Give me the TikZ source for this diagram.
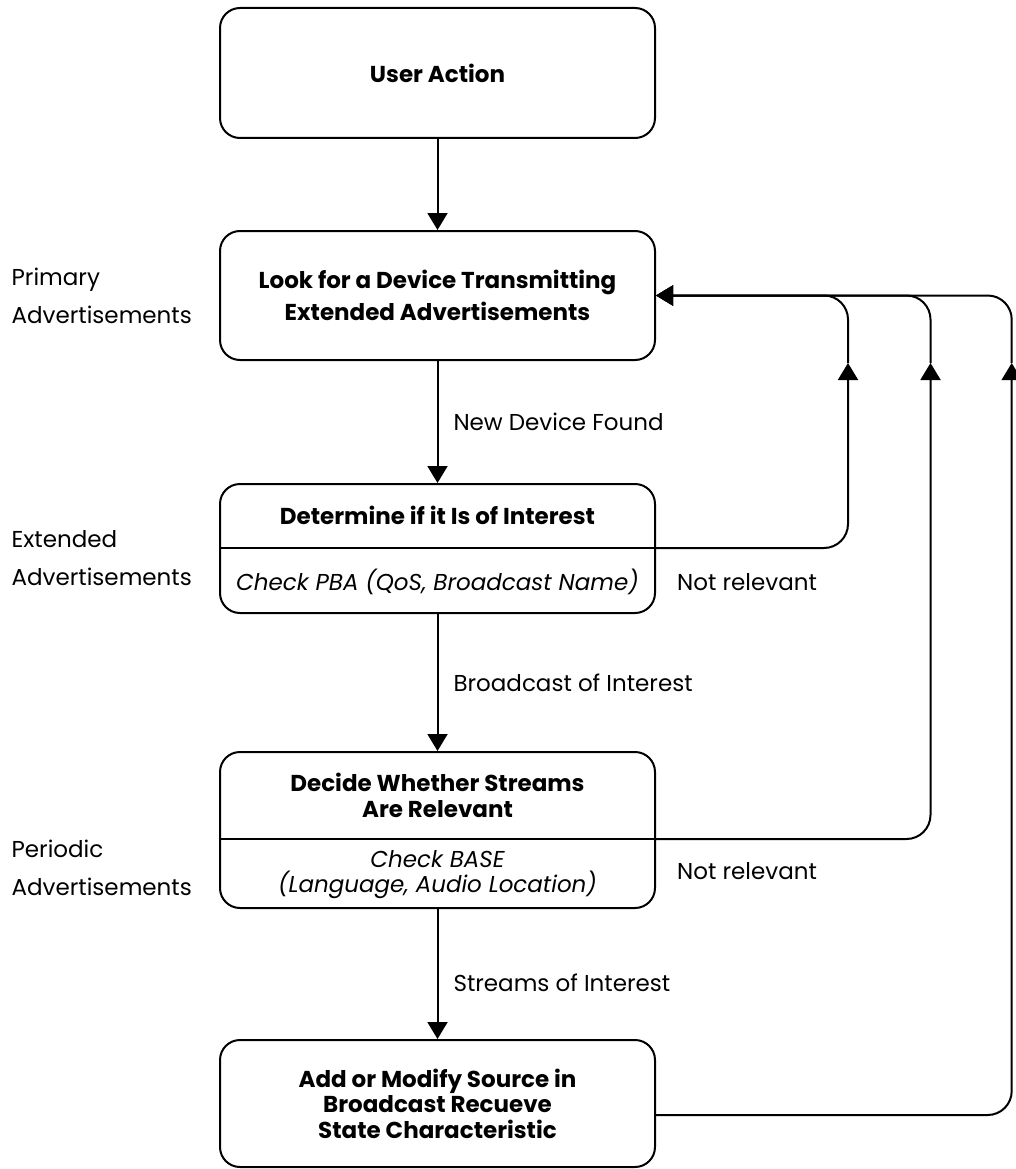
\documentclass[tikz,border=0pt]{standalone}
\usepackage{fontspec}
\setmainfont{Poppins}
\usetikzlibrary{arrows.meta, positioning, calc}

\begin{document}
\begin{tikzpicture}[
    x=1pt, y=1pt,
    box/.style={rectangle, draw, line width=2pt, rounded corners=20pt, minimum width=435pt, text centered, align=center, font=\bfseries\fontsize{23}{26}\selectfont},
    title/.style={align=center, font=\bfseries\fontsize{23}{26}\selectfont},
    check/.style={align=center, font=\itshape\fontsize{23}{25}\selectfont},
    note/.style={inner sep=0pt, font=\fontsize{23}{26}\selectfont},
    side/.style={align=left, inner sep=0pt, font=\fontsize{23}{38}\selectfont},
    arrow/.style={line width=2pt, -{Triangle[length=17pt, width=20pt]}},
    back/.style={arrow, rounded corners=24pt}
]

\useasboundingbox (0,0) rectangle (1016,-1169);

% main chain
\node[box, minimum height=130pt] (action) at (437.5,-73) {User Action};
\node[box, minimum height=129pt, below=91pt of action, font=\bfseries\fontsize{23}{32}\selectfont] (look) {Look for a Device Transmitting\\Extended Advertisements};
\node[box, minimum height=129pt, below=122pt of look] (interest) {};
\node[box, minimum height=156pt, below=137pt of interest] (streams) {};
\node[box, minimum height=127pt, below=130pt of streams, font=\bfseries\fontsize{23}{25.5}\selectfont] (source) {Add or Modify Source in\\Broadcast Recueve\\State Characteristic};

% inside the split boxes
\node[title] (interest-title) at ([yshift=-32.5pt]interest.north) {Determine if it Is of Interest};
\coordinate (interest-split) at ([yshift=-65pt]interest.north);
\node[check] (interest-check) at ([yshift=32pt]interest.south) {Check PBA (QoS, Broadcast Name)};
\draw[line width=2pt] (interest-split -| interest.west) -- (interest-split -| interest.east);

\node[title] (streams-title) at ([yshift=-44pt]streams.north) {Decide Whether Streams\\Are Relevant};
\coordinate (streams-split) at ([yshift=-88pt]streams.north);
\node[check] (streams-check) at ([yshift=34pt]streams.south) {Check BASE\\(Language, Audio Location)};
\draw[line width=2pt] (streams-split -| streams.west) -- (streams-split -| streams.east);

% side labels
\node[side, left=27pt of look.west] (primary) {Primary\\Advertisements};
\node[side, left=27pt of interest.west, yshift=-9.5pt] (extended) {Extended\\Advertisements};
\node[side, left=27pt of streams.west, yshift=-38pt] (periodic) {Periodic\\Advertisements};

% arrows down
\draw[arrow] (action) -- (look);
\draw[arrow] (look) -- node[note, right=15pt] {New Device Found} (interest);
\draw[arrow] (interest) -- node[note, right=15pt] {Broadcast of Interest} (streams);
\draw[arrow] (streams) -- node[note, right=15pt, pos=0.57] {Streams of Interest} (source);

% back to the search
\coordinate (tip1) at (848,-363);
\coordinate (tip2) at (930.5,-363);
\coordinate (tip3) at (1011.7,-363);

\draw[back] (interest-split -| interest.east) -| (tip1);
\draw[back] (tip1) |- (look.east);
\draw[back] (streams-split -| streams.east) -| (tip2);
\draw[back] (tip2) |- (look.east);
\draw[back] ([yshift=-11.5pt]source.east) -| (tip3);
\draw[back] (tip3) |- (look.east);

\node[note, anchor=west] (skip1) at ($(interest.east |- interest-check)+(21,0)$) {Not relevant};
\node[note, anchor=west] (skip2) at ($(streams.east |- streams-check)+(21,4)$) {Not relevant};

\end{tikzpicture}
\end{document}
